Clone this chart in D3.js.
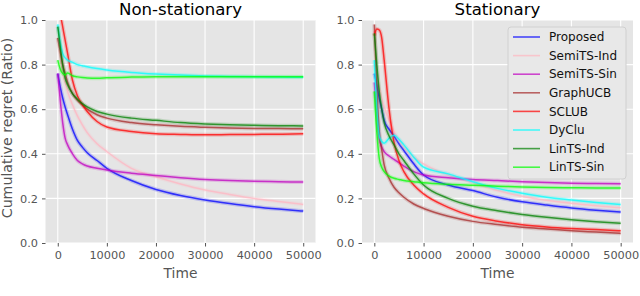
<!DOCTYPE html>
<html lang="en">
<head>
<meta charset="UTF-8">
<script src="https://cdn.jsdelivr.net/npm/d3@7"></script>
<style>
  body { margin: 0; background: #fff; }
  text { font-family: "DejaVu Sans", sans-serif; }
</style>
</head>
<body>
<svg></svg>
<script>
const width = 640, height = 296

const times = [0, 500, 1000, 1500, 2000, 3000, 4000, 5000, 6000, 8000, 10000,
  15000, 20000, 25000, 30000, 35000, 40000, 45000, 50000]
const names = ['Proposed', 'SemiTS-Ind', 'SemiTS-Sin', 'GraphUCB', 'SCLUB', 'DyClu', 'LinTS-Ind', 'LinTS-Sin']
const colors = ['#0000ff', '#ffb6c1', '#c000c0', '#a52a2a', '#ff0000', '#00ffff', '#008000', '#00ff00']

// Non-stationary panel
const nsProposed = [0.76, 0.70, 0.65, 0.61, 0.575, 0.51, 0.46, 0.43, 0.405, 0.37, 0.335, 0.28, 0.24, 0.213, 0.193, 0.177, 0.163, 0.152, 0.143]
const nsSemiInd  = [0.92, 0.84, 0.77, 0.72, 0.68, 0.62, 0.57, 0.53, 0.495, 0.445, 0.41, 0.335, 0.297, 0.265, 0.238, 0.218, 0.2, 0.186, 0.173]
const nsSemiSin  = [0.76, 0.64, 0.54, 0.47, 0.44, 0.40, 0.37, 0.355, 0.345, 0.335, 0.327, 0.313, 0.303, 0.293, 0.285, 0.28, 0.277, 0.275, 0.273]
const nsGraphUCB = [0.92, 0.86, 0.80, 0.76, 0.72, 0.67, 0.64, 0.62, 0.60, 0.575, 0.56, 0.54, 0.53, 0.523, 0.519, 0.516, 0.514, 0.513, 0.512]
const nsSCLUB    = [1.2, 1.04, 0.97, 0.91, 0.85, 0.73, 0.66, 0.62, 0.59, 0.545, 0.52, 0.50, 0.49, 0.487, 0.485, 0.486, 0.487, 0.488, 0.49]
const nsDyClu    = [0.98, 0.90, 0.85, 0.83, 0.82, 0.81, 0.80, 0.795, 0.79, 0.782, 0.776, 0.765, 0.758, 0.753, 0.749, 0.747, 0.745, 0.744, 0.743]
const nsLinInd   = [0.97, 0.88, 0.80, 0.74, 0.71, 0.67, 0.645, 0.625, 0.61, 0.59, 0.578, 0.56, 0.55, 0.54, 0.534, 0.53, 0.528, 0.526, 0.525]
const nsLinSin   = [0.82, 0.78, 0.76, 0.755, 0.762, 0.75, 0.745, 0.742, 0.74, 0.739, 0.741, 0.744, 0.746, 0.746, 0.746, 0.745, 0.745, 0.745, 0.745]

// Stationary panel
const stProposed = [0.76, 0.71, 0.65, 0.60, 0.55, 0.51, 0.48, 0.445, 0.415, 0.355, 0.305, 0.26, 0.235, 0.205, 0.185, 0.17, 0.157, 0.147, 0.139]
const stSemiInd  = [0.80, 0.75, 0.70, 0.65, 0.61, 0.55, 0.50, 0.46, 0.43, 0.385, 0.355, 0.305, 0.27, 0.235, 0.21, 0.192, 0.178, 0.167, 0.158]
const stSemiSin  = [0.72, 0.58, 0.47, 0.43, 0.41, 0.39, 0.375, 0.36, 0.345, 0.32, 0.305, 0.293, 0.285, 0.28, 0.275, 0.271, 0.268, 0.267, 0.266]
const stGraphUCB = [0.98, 0.70, 0.50, 0.42, 0.35, 0.29, 0.25, 0.225, 0.205, 0.175, 0.155, 0.12, 0.097, 0.083, 0.071, 0.063, 0.055, 0.049, 0.043]
const stSCLUB    = [0.93, 0.96, 0.955, 0.92, 0.82, 0.60, 0.45, 0.37, 0.32, 0.26, 0.22, 0.16, 0.12, 0.098, 0.082, 0.072, 0.065, 0.06, 0.055]
const stDyClu    = [0.82, 0.60, 0.48, 0.455, 0.447, 0.47, 0.483, 0.465, 0.44, 0.385, 0.34, 0.31, 0.275, 0.245, 0.223, 0.205, 0.193, 0.182, 0.173]
const stLinInd   = [0.94, 0.80, 0.68, 0.60, 0.54, 0.48, 0.44, 0.40, 0.37, 0.31, 0.26, 0.20, 0.165, 0.145, 0.128, 0.115, 0.104, 0.095, 0.088]
const stLinSin   = [0.68, 0.50, 0.38, 0.34, 0.32, 0.30, 0.29, 0.285, 0.28, 0.275, 0.27, 0.263, 0.259, 0.255, 0.251, 0.249, 0.248, 0.247, 0.247]

const xTicks = [0, 10000, 20000, 30000, 40000, 50000]
const yTicks = [0, 0.2, 0.4, 0.6, 0.8, 1.0]

const panels = [
  {title: 'Non-stationary', series: [nsProposed, nsSemiInd, nsSemiSin, nsGraphUCB, nsSCLUB, nsDyClu, nsLinInd, nsLinSin], x0: 45.5, x1: 315.5},
  {title: 'Stationary', series: [stProposed, stSemiInd, stSemiSin, stGraphUCB, stSCLUB, stDyClu, stLinInd, stLinSin], x0: 362, x1: 633}
]
const plotTop = 20, plotBottom = 243

const svg = d3.select('svg')
    .attr('width', width)
    .attr('height', height)

const y = d3.scaleLinear().domain([0, 1]).range([plotBottom, plotTop])

panels.forEach((p, pi) => {
  const x = d3.scaleLinear().domain([-2500, 52500]).range([p.x0, p.x1])
  const g = svg.append('g')

  g.append('rect')
      .attr('x', p.x0).attr('y', plotTop)
      .attr('width', p.x1 - p.x0).attr('height', plotBottom - plotTop)
      .attr('fill', '#e5e5e5')

  // grid
  g.append('g').selectAll('line').data(xTicks).join('line')
      .attr('x1', d => x(d)).attr('x2', d => x(d))
      .attr('y1', plotTop).attr('y2', plotBottom)
      .attr('stroke', '#fff').attr('stroke-width', 1.1)
  g.append('g').selectAll('line').data(yTicks).join('line')
      .attr('x1', p.x0).attr('x2', p.x1)
      .attr('y1', d => y(d)).attr('y2', d => y(d))
      .attr('stroke', '#fff').attr('stroke-width', 1.1)

  // axes
  g.append('g')
      .attr('transform', `translate(0,${plotBottom})`)
      .call(d3.axisBottom(x).tickValues(xTicks).tickFormat(d3.format('d')).tickSize(3.5).tickPadding(4))
      .call(a => a.select('.domain').remove())
      .call(a => a.selectAll('line').attr('stroke', '#555'))
      .call(a => a.selectAll('text').attr('fill', '#555').attr('font-size', 11.3).attr('font-family', 'DejaVu Sans'))
  g.append('g')
      .attr('transform', `translate(${p.x0},0)`)
      .call(d3.axisLeft(y).tickValues(yTicks).tickFormat(d3.format('.1f')).tickSize(3.5).tickPadding(4))
      .call(a => a.select('.domain').remove())
      .call(a => a.selectAll('line').attr('stroke', '#555'))
      .call(a => a.selectAll('text').attr('fill', '#555').attr('font-size', 11.3).attr('font-family', 'DejaVu Sans'))

  const clipId = 'clip' + pi
  svg.append('clipPath').attr('id', clipId)
    .append('rect')
      .attr('x', p.x0).attr('y', plotTop)
      .attr('width', p.x1 - p.x0).attr('height', plotBottom - plotTop)

  const line = d3.line()
      .curve(d3.curveMonotoneX)
      .x((d, i) => x(times[i]))
      .y(d => y(d))

  const lines = g.append('g').attr('clip-path', `url(#${clipId})`)
  p.series.forEach((s, i) => {
    lines.append('path')
        .attr('d', line(s))
        .attr('fill', 'none')
        .attr('stroke', colors[i])
        .attr('stroke-opacity', 0.18)
        .attr('stroke-width', 4)
    lines.append('path')
        .attr('d', line(s))
        .attr('fill', 'none')
        .attr('stroke', colors[i])
        .attr('stroke-opacity', 0.75)
        .attr('stroke-width', 1.5)
  })

  g.append('text')
      .attr('x', (p.x0 + p.x1) / 2).attr('y', 15)
      .attr('text-anchor', 'middle')
      .attr('font-size', 16.6)
      .attr('fill', '#000')
      .text(p.title)

  g.append('text')
      .attr('x', (p.x0 + p.x1) / 2).attr('y', 277.5)
      .attr('text-anchor', 'middle')
      .attr('font-size', 13.8)
      .attr('fill', '#555')
      .text('Time')
})

svg.append('text')
    .attr('transform', `translate(12,128) rotate(-90)`)
    .attr('text-anchor', 'middle')
    .attr('font-size', 14.2)
    .attr('fill', '#555')
    .text('Cumulative regret (Ratio)')

// legend
const legend = svg.append('g')
legend.append('rect')
    .attr('x', 508).attr('y', 27)
    .attr('width', 118).attr('height', 152)
    .attr('rx', 3)
    .attr('fill', '#e8e8e8')
    .attr('stroke', '#d0d0d0')
const item = legend.selectAll('g.item').data(names).join('g')
    .attr('transform', (d, i) => `translate(0,${37 + i * 18.6})`)
item.append('line')
    .attr('x1', 513).attr('x2', 540)
    .attr('stroke', (d, i) => colors[i])
    .attr('stroke-opacity', 0.7)
    .attr('stroke-width', 1.6)
item.append('text')
    .attr('x', 549).attr('dy', '0.35em')
    .attr('font-size', 12)
    .attr('fill', '#111')
    .text(d => d)
</script>
</body>
</html>
